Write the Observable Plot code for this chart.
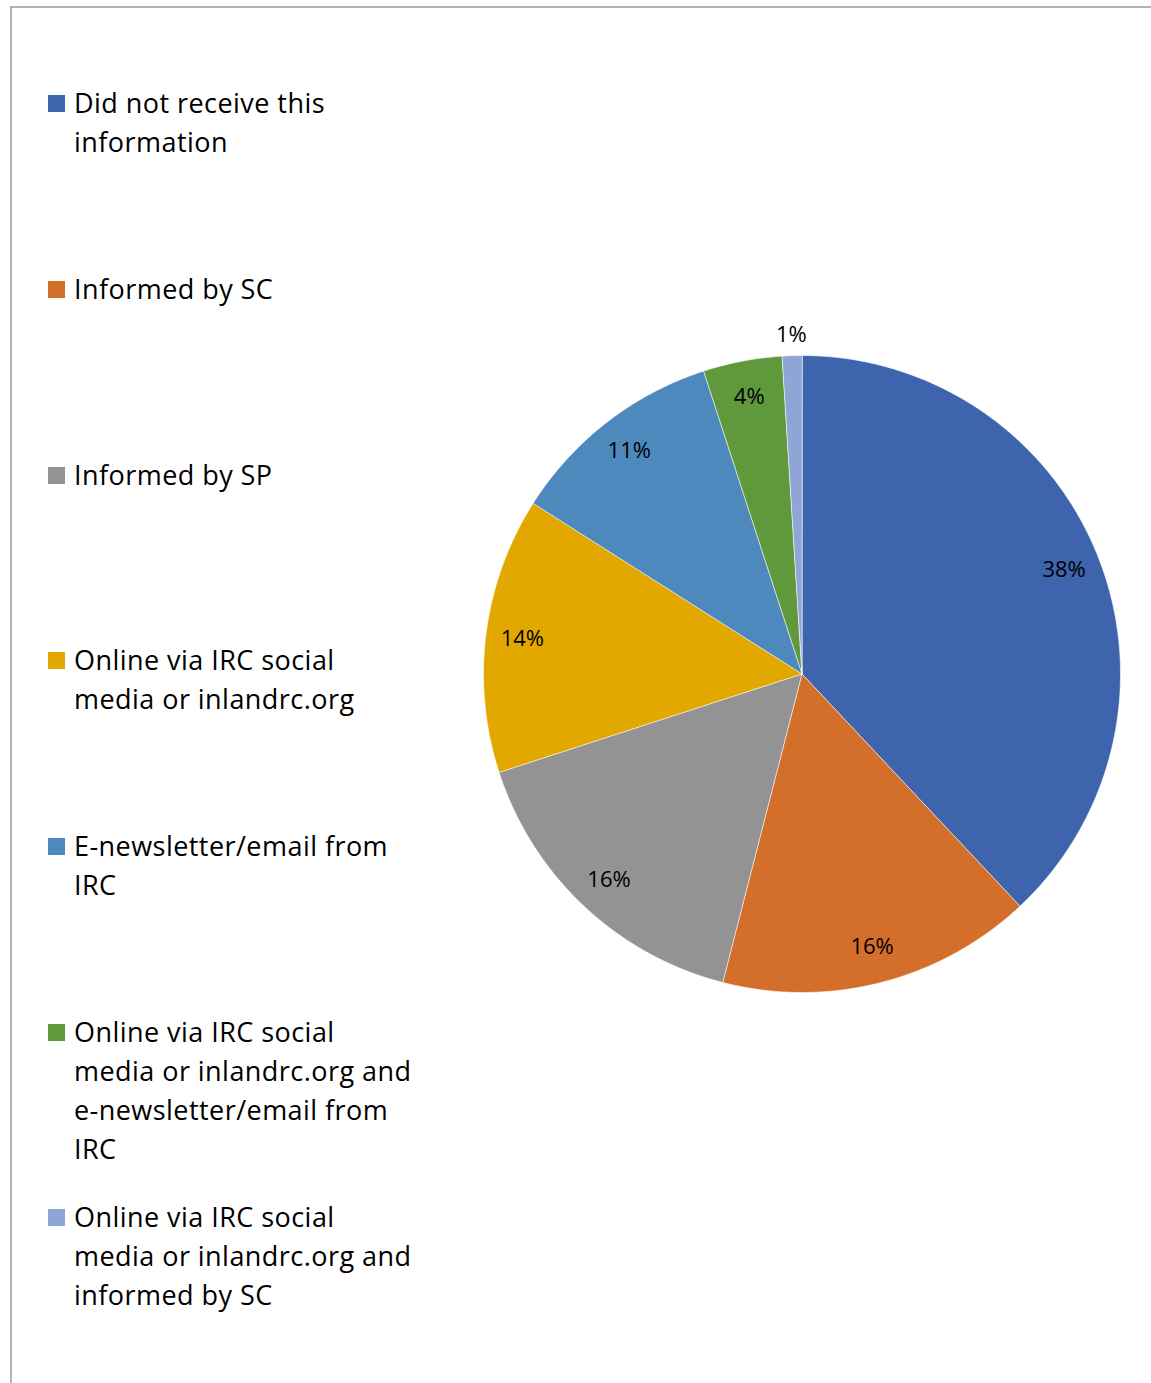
<!DOCTYPE html>
<html>
<head>
<meta charset="utf-8">
<script src="https://cdn.jsdelivr.net/npm/d3@7"></script>
<script src="https://cdn.jsdelivr.net/npm/@observablehq/plot@0.6"></script>
<style>
  html, body { margin: 0; padding: 0; background: #fff; }
  #wrap { position: relative; width: 1151px; height: 1383px; overflow: hidden; font-family: "Open Sans", sans-serif; }
  #frame { position: absolute; left: 10px; top: 6px; width: 1200px; height: 1400px; border-left: 2px solid #b3b3b3; border-top: 2px solid #b3b3b3; box-sizing: border-box; }
  #legend { position: absolute; left: 48px; top: 0; }
  .item { position: absolute; left: 0; width: 400px; font-size: 27px; letter-spacing: 0.45px; line-height: 39px; color: #000; }
  .sw { position: absolute; left: 0; top: 11px; width: 17px; height: 17px; }
  .tx { position: absolute; left: 26px; top: -1px; width: 380px; white-space: nowrap; }
  #chart { position: absolute; left: 0; top: 0; }
</style>
</head>
<body>
<div id="wrap">
  <div id="frame"></div>
  <div id="chart"></div>
  <div id="legend"></div>
</div>
<script>
const categories = [
  "Did not receive this information",
  "Informed by SC",
  "Informed by SP",
  "Online via IRC social media or inlandrc.org",
  "E-newsletter/email from IRC",
  "Online via IRC social media or inlandrc.org and e-newsletter/email from IRC",
  "Online via IRC social media or inlandrc.org and informed by SC"
];
const legendLines = [
  ["Did not receive this", "information"],
  ["Informed by SC"],
  ["Informed by SP"],
  ["Online via IRC social", "media or inlandrc.org"],
  ["E-newsletter/email from", "IRC"],
  ["Online via IRC social", "media or inlandrc.org and", "e-newsletter/email from", "IRC"],
  ["Online via IRC social", "media or inlandrc.org and", "informed by SC"]
];
const values = [38, 16, 16, 14, 11, 4, 1];
const labels = ["38%", "16%", "16%", "14%", "11%", "4%", "1%"];
const colors = ["#3d64ad", "#d46f2b", "#939393", "#e2a800", "#4e89bd", "#5f993c", "#8fa5d6"];

// pie geometry from values (start at 12 o'clock, clockwise)
const total = d3.sum(values);
const slices = [];
const labelPts = [];
let acc = 0;
values.forEach((v, i) => {
  const a0 = acc / total * 2 * Math.PI;
  acc += v;
  const a1 = acc / total * 2 * Math.PI;
  const n = Math.max(4, Math.ceil((a1 - a0) / 0.01));
  slices.push({cat: categories[i], x: 0, y: 0});
  for (let k = 0; k <= n; k++) {
    const a = a0 + (a1 - a0) * k / n;
    slices.push({cat: categories[i], x: Math.sin(a), y: Math.cos(a)});
  }
  const am = (a0 + a1) / 2;
  const rr = v < 2 ? 1.065 : 0.885;
  labelPts.push({label: labels[i], x: rr * Math.sin(am), y: rr * Math.cos(am)});
});

const plot = Plot.plot({
  width: 1151,
  height: 1383,
  margin: 0,
  style: {background: "transparent", overflow: "visible"},
  x: {domain: [-1, 1], range: [483, 1120], axis: null},
  y: {domain: [-1, 1], range: [992, 355], axis: null},
  color: {domain: categories, range: colors},
  marks: [
    Plot.line(slices, {x: "x", y: "y", z: "cat", fill: "cat", stroke: "white", strokeWidth: 0.6, curve: "linear-closed"}),
    Plot.text(labelPts, {x: "x", y: "y", text: "label", fontSize: 22, fill: "#000", fontFamily: "Open Sans, sans-serif"})
  ]
});
document.getElementById("chart").appendChild(plot);

// legend
const tops = [84, 270, 456, 641, 827, 1013, 1198];
const lg = document.getElementById("legend");
categories.forEach((c, i) => {
  const it = document.createElement("div");
  it.className = "item";
  it.style.top = tops[i] + "px";
  const sw = document.createElement("div");
  sw.className = "sw";
  sw.style.background = colors[i];
  const tx = document.createElement("div");
  tx.className = "tx";
  tx.innerHTML = legendLines[i].join("<br>");
  it.appendChild(sw);
  it.appendChild(tx);
  lg.appendChild(it);
});
</script>
</body>
</html>
